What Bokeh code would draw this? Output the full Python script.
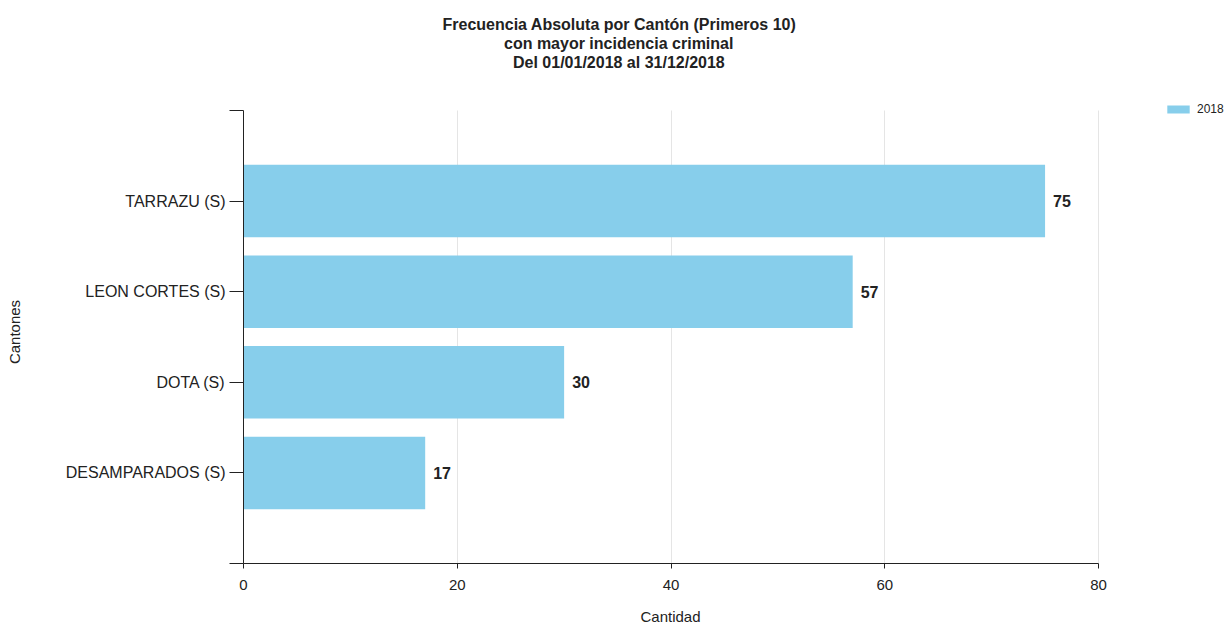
from bokeh.plotting import figure
from bokeh.models import Range1d, FixedTicker, ColumnDataSource, Legend, LegendItem, Title
from bokeh.core.properties import value
from bokeh.embed import file_html
from bokeh.resources import INLINE

# ---- data ----
cantones = ["TARRAZU (S)", "LEON CORTES (S)", "DOTA (S)", "DESAMPARADOS (S)"]
cantidad_2018 = [75, 57, 30, 17]
x_ticks = [0, 20, 40, 60, 80]
serie = "2018"
title_lines = [
    "Frecuencia Absoluta por Cantón (Primeros 10)",
    "con mayor incidencia criminal",
    "Del 01/01/2018 al 31/12/2018",
]
x_label = "Cantidad"
y_label = "Cantones"

# ---- layout / style ----
FONT = "Liberation Sans"
BAR = "#87CEEB"
TXT = "#222222"
AX = "#222222"
W, H = 1231, 624
LEFT, TOP, BOTTOM = 243, 100, 61
AXIS_TOP_PX = 110             # pixel where the y axis line starts
AXIS_END_PX = 1098            # pixel where the x axis (value 80) ends
TITLE_CENTER = 618
XLABEL_CENTER = 670
title_widths = [352, 229, 211]   # approx rendered widths (16px bold)
xlabel_width = 60

x_end = x_ticks[-1] * (W - LEFT) / (AXIS_END_PX - LEFT)
n = len(cantones)
px_per_cat = (H - BOTTOM - AXIS_TOP_PX) / (n + 1)
y_top = -1 - (AXIS_TOP_PX - TOP) / px_per_cat

pos = list(range(n))
src = ColumnDataSource(dict(y=pos, right=cantidad_2018,
                            label=[str(v) for v in cantidad_2018]))

p = figure(width=W, height=H, output_backend="svg", toolbar_location=None,
           title=None,
           x_range=Range1d(x_ticks[0], x_end),
           y_range=Range1d(n, y_top),
           min_border_left=LEFT, min_border_right=0,
           min_border_top=TOP, min_border_bottom=BOTTOM)
p.outline_line_color = None
p.background_fill_color = "white"

bars = p.hbar(y="y", right="right", left=0, height=0.8, source=src,
              fill_color=BAR, line_color=None)
p.text(x="right", y="y", text="label", source=src, x_offset=8,
       text_baseline="middle", text_align="left",
       text_font=value(FONT), text_font_style="bold",
       text_font_size="16px", text_color=TXT)

# spacer between frame and title, then the three title lines
p.add_layout(Title(text=" ", text_font_size="25px", standoff=0), "above")
for line, w in zip(reversed(title_lines), reversed(title_widths)):
    p.add_layout(Title(text=line, align="left", text_font=FONT,
                       text_font_size="16px", text_font_style="bold",
                       text_color=TXT, standoff=0,
                       offset=TITLE_CENTER - LEFT - w / 2), "above")

# x axis
xa = p.xaxis[0]
xa.ticker = FixedTicker(ticks=x_ticks)
xa.bounds = (x_ticks[0], x_ticks[-1])
xa.minor_tick_line_color = None
xa.major_tick_out = 5
xa.major_tick_in = 0
xa.axis_line_color = AX
xa.major_tick_line_color = AX
xa.major_label_text_font = FONT
xa.major_label_text_font_size = "15px"
xa.major_label_text_color = TXT
xa.major_label_standoff = 11

# spacer below the tick labels, then the axis title
p.add_layout(Title(text=" ", text_font_size="10px", standoff=0), "below")
p.add_layout(Title(text=x_label, align="left", text_font=FONT,
                   text_font_size="15px", text_font_style="normal",
                   text_color=TXT, standoff=0, text_line_height=0.9,
                   offset=XLABEL_CENTER - LEFT - xlabel_width / 2), "below")

# y axis
ya = p.yaxis[0]
yt = [-1] + pos + [n]
ya.ticker = FixedTicker(ticks=yt)
ya.bounds = (-1, n)
overrides = {-1: "", n: ""}
for i, c in enumerate(cantones):
    overrides[i] = c
ya.major_label_overrides = overrides
ya.minor_tick_line_color = None
ya.major_tick_out = 14
ya.major_tick_in = 0
ya.axis_line_color = AX
ya.major_tick_line_color = AX
ya.major_label_text_font = FONT
ya.major_label_text_font_size = "16px"
ya.major_label_text_color = TXT
ya.major_label_standoff = 4
ya.axis_label = y_label
ya.axis_label_text_font = FONT
ya.axis_label_text_font_size = "15px"
ya.axis_label_text_font_style = "normal"
ya.axis_label_text_color = TXT
ya.axis_label_standoff = 40

p.ygrid.visible = False
p.xgrid.ticker = FixedTicker(ticks=x_ticks[1:])
p.xgrid.cross_bounds = (n, -1)
p.xgrid.grid_line_color = "#e5e5e5"

legend = Legend(items=[LegendItem(label=serie, renderers=[bars])],
                location=(1164 - LEFT, H - BOTTOM - 116), padding=0, margin=0,
                border_line_color=None, background_fill_alpha=0,
                glyph_width=28, glyph_height=10, label_standoff=5,
                label_text_font=FONT, label_text_font_size="12px",
                label_text_color=TXT, label_height=10)
p.add_layout(legend)

open("out.html", "w").write(file_html(p, INLINE))
